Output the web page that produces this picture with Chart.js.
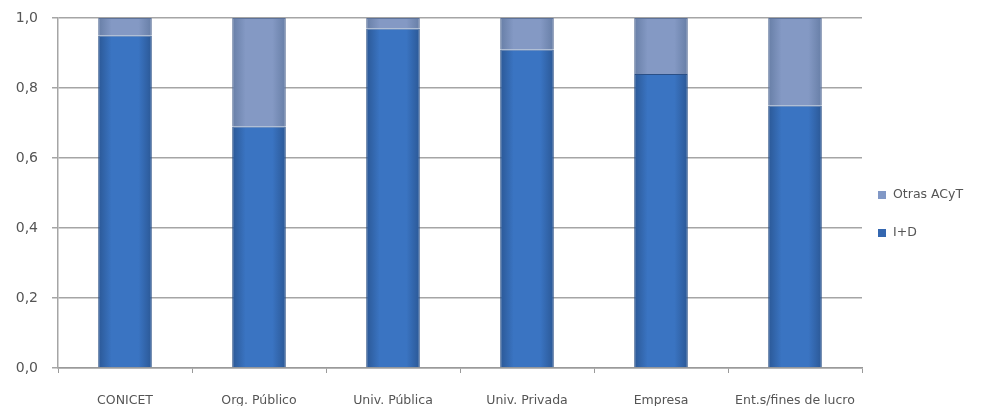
<!DOCTYPE html>
<html>
<head>
  <meta charset="utf-8">
  <title>I+D vs Otras ACyT</title>
  <style>
    html, body { margin: 0; padding: 0; background: #fff; }
    #wrap { width: 988px; height: 406px; }
  </style>
</head>
<body>

<div id="wrap">
  <canvas id="chart"></canvas>
</div>

<script src="https://cdn.jsdelivr.net/npm/chart.js@4/dist/chart.umd.min.js"></script>
<script>

// data
const categories = ['CONICET', 'Org. Público', 'Univ. Pública', 'Univ. Privada', 'Empresa', 'Ent.s/fines de lucro'];
const iyd = [0.95, 0.69, 0.97, 0.91, 0.84, 0.75];
const otras = [0.05, 0.31, 0.03, 0.09, 0.16, 0.25];
const yTicks = [0, 0.2, 0.4, 0.6, 0.8, 1.0];

const BAR_FRAC = 0.40;

// horizontal shading per bar
function barGradient(context, edge, mid) {
  const chart = context.chart;
  const xs = chart.scales.x;
  if (!chart.chartArea || !xs || context.dataIndex === undefined) return mid;
  const cx = xs.getPixelForValue(context.dataIndex);
  const w = (xs.width / categories.length) * BAR_FRAC;
  const g = chart.ctx.createLinearGradient(cx - w / 2, 0, cx + w / 2, 0);
  g.addColorStop(0, edge);
  g.addColorStop(0.25, mid);
  g.addColorStop(0.75, mid);
  g.addColorStop(1, edge);
  return g;
}

// legend on the right, drawn by hand so the plot keeps its width
const sideLegend = {
  id: 'sideLegend',
  afterDraw(chart) {
    const ctx = chart.ctx;
    const items = [
      { text: 'Otras ACyT', color: '#8198c6', y: 195 },
      { text: 'I+D', color: '#3467b0', y: 233 }
    ];
    ctx.save();
    ctx.font = '12.5px "DejaVu Sans"';
    ctx.textBaseline = 'middle';
    items.forEach(it => {
      ctx.fillStyle = it.color;
      ctx.fillRect(878, it.y - 4, 8, 8);
      ctx.fillStyle = '#555';
      ctx.fillText(it.text, 893, it.y);
    });
    ctx.restore();
  }
};

new Chart(document.getElementById('chart'), {
  type: 'bar',
  data: {
    labels: categories,
    datasets: [
      {
        label: 'I+D',
        data: iyd,
        backgroundColor: c => barGradient(c, '#2b5896', '#3a74c2'),
        borderColor: '#2a4f86',
        borderWidth: 1,
        barPercentage: BAR_FRAC,
        categoryPercentage: 1.0
      },
      {
        label: 'Otras ACyT',
        data: otras,
        backgroundColor: c => barGradient(c, '#677ea6', '#8499c4'),
        borderColor: '#5d7299',
        borderWidth: 1,
        barPercentage: BAR_FRAC,
        categoryPercentage: 1.0
      }
    ]
  },
  plugins: [sideLegend],
  options: {
    responsive: true,
    maintainAspectRatio: false,
    animation: false,
    layout: { padding: { top: 18, right: 126, left: 0, bottom: 0 } },
    plugins: {
      legend: { display: false },
      tooltip: { enabled: false }
    },
    scales: {
      x: {
        stacked: true,
        grid: { drawOnChartArea: false, drawTicks: true, tickLength: 5, color: '#9a9a9a', offset: true },
        border: { color: '#9a9a9a', width: 1.5 },
        ticks: { color: '#555', font: { family: 'DejaVu Sans', size: 12.5 }, padding: 20, maxRotation: 0 },
        afterFit: s => { s.height = 38; s.paddingLeft = 0; s.paddingRight = 0; }
      },
      y: {
        stacked: true,
        min: 0,
        max: 1,
        afterBuildTicks: s => { s.ticks = yTicks.map(v => ({ value: v })); },
        grid: { color: '#a5a5a5', lineWidth: 1.5, tickLength: 6 },
        border: { color: '#a5a5a5', width: 1.5 },
        ticks: {
          color: '#555',
          font: { family: 'DejaVu Sans', size: 14 },
          padding: 14,
          callback: v => v.toFixed(1).replace('.', ',')
        },
        afterFit: s => { s.width = 58; s.paddingTop = 0; s.paddingBottom = 0; }
      }
    }
  }
});

</script>

</body>
</html>
